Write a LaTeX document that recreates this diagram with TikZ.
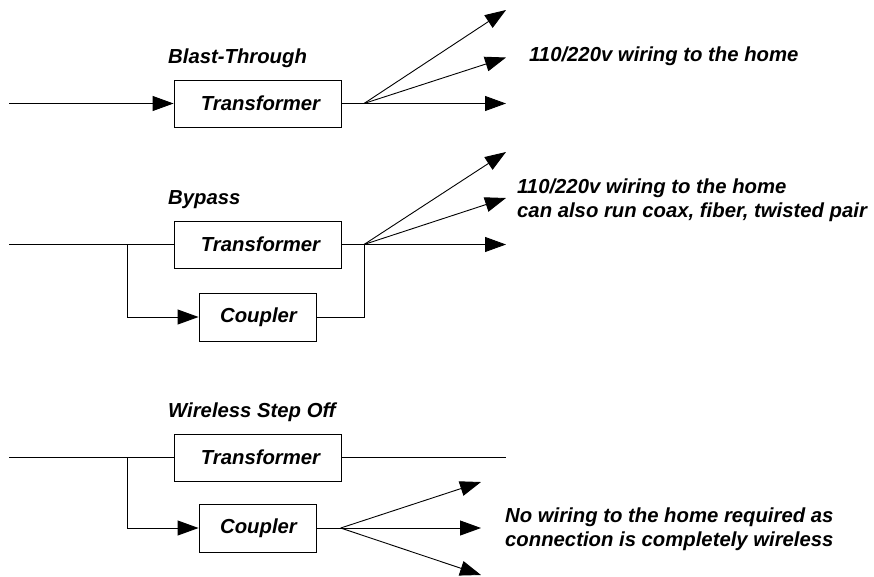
\documentclass[tikz,border=0pt]{standalone}
\usepackage{fontspec}
\setmainfont{Liberation Sans}
\usetikzlibrary{arrows.meta}
\begin{document}
\begin{tikzpicture}[x=1pt,y=-1pt,
  wire/.style={line width=0.9pt,draw=black},
  arr/.style={wire,-{Triangle[length=21pt,width=15pt]}},
  lbl/.style={font=\fontsize{20.3}{24}\selectfont\bfseries\itshape,inner sep=0pt,anchor=west},
  tbox/.style={draw=black,line width=0.9pt,font=\fontsize{20.3}{24}\selectfont\bfseries\itshape,minimum width=167pt,minimum height=47pt,inner sep=0pt},
  cbox/.style={tbox,minimum width=117pt,minimum height=48pt}]
\useasboundingbox (0,0) rectangle (874,576);
% Blast-Through
\node[lbl] (bt) at (168,58) {Blast-Through};
\node[tbox] (t1) at (257.5,103.5) {\hspace*{6pt}Transformer};
\coordinate (in1) at (9,103.5);
\coordinate (f1) at (364,103.5);
\coordinate (a1) at (506,10);
\coordinate (a2) at (506,57.5);
\coordinate (a3) at (506,103.5);
\draw[arr] (in1) -- (t1.west);
\draw[wire] (t1.east) -- (f1);
\draw[arr] (f1) -- (a1);
\draw[arr] (f1) -- (a2);
\draw[arr] (f1) -- (a3);
\node[lbl] (w1) at (529,56) {110/220v wiring to the home};
% Bypass
\node[lbl] (bp) at (168,200) {Bypass};
\node[tbox] (t2) at (257.5,244.5) {\hspace*{6pt}Transformer};
\node[cbox] (c2) at (257.5,317) {\hspace*{2pt}Coupler};
\coordinate (in2) at (9,244.5);
\coordinate (b2) at (127,244.5);
\coordinate (f2) at (364,244.5);
\coordinate (d1) at (506,152);
\coordinate (d2) at (506,198);
\coordinate (d3) at (506,244.5);
\draw[wire] (in2) -- (t2.west);
\draw[arr] (b2) |- (c2.west);
\draw[wire] (c2.east) -| (f2);
\draw[wire] (t2.east) -- (f2);
\draw[arr] (f2) -- (d1);
\draw[arr] (f2) -- (d2);
\draw[arr] (f2) -- (d3);
\node[lbl,align=left] (w2) at (517,200) {110/220v wiring to the home\\can also run coax, fiber, twisted pair};
% Wireless Step Off
\node[lbl] (ws) at (168,412) {Wireless Step Off};
\node[tbox] (t3) at (257.5,457.5) {\hspace*{6pt}Transformer};
\node[cbox] (c3) at (257.5,528) {\hspace*{2pt}Coupler};
\coordinate (in3) at (9,457.5);
\coordinate (b3) at (127,457.5);
\coordinate (o3) at (506,457.5);
\coordinate (f3) at (340.7,528);
\coordinate (e1) at (481,482);
\coordinate (e2) at (481,528);
\coordinate (e3) at (481,575);
\draw[wire] (in3) -- (t3.west);
\draw[wire] (t3.east) -- (o3);
\draw[arr] (b3) |- (c3.west);
\draw[wire] (c3.east) -- (f3);
\draw[arr] (f3) -- (e1);
\draw[arr] (f3) -- (e2);
\draw[arr] (f3) -- (e3);
\node[lbl,align=left] (w3) at (505,529) {No wiring to the home required as\\connection is completely wireless};
\end{tikzpicture}
\end{document}
